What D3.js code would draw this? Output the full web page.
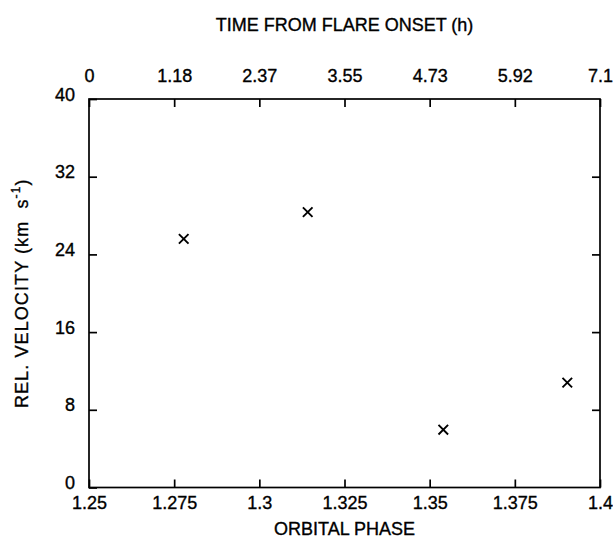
<!DOCTYPE html>
<html>
<head>
<meta charset="utf-8">
<script src="https://cdn.jsdelivr.net/npm/d3@7"></script>
<style>
  html, body { margin: 0; padding: 0; background: #fff; }
  svg { display: block; }
  text { font-family: "Liberation Sans", Arial, sans-serif; fill: #000; stroke: #000; stroke-width: 0.35px; }
</style>
</head>
<body>
<svg id="chart" width="613" height="538"></svg>
<script>
// ---- data ----
const phase = [1.2778, 1.3142, 1.3540, 1.3904];
const velocity = [25.6, 28.35, 5.95, 10.8];
const phaseTicks = [1.25, 1.275, 1.3, 1.325, 1.35, 1.375, 1.4];
const phaseTickLabels = ["1.25", "1.275", "1.3", "1.325", "1.35", "1.375", "1.4"];
const timeTickLabels = ["0", "1.18", "2.37", "3.55", "4.73", "5.92", "7.1"];
const velocityTicks = [0, 8, 16, 24, 32, 40];

const svg = d3.select("#chart");
const mL = 89, mR = 600, mT = 99, mB = 487.5;
const x = d3.scaleLinear().domain([1.25, 1.4]).range([mL, mR]);
const y = d3.scaleLinear().domain([0, 40]).range([mB, mT]);
const tickLen = 8;
const fs = 18;
const FF = "'Liberation Sans', Arial, sans-serif";

// frame
svg.append("rect")
  .attr("x", mL).attr("y", mT)
  .attr("width", mR - mL).attr("height", mB - mT)
  .attr("fill", "none").attr("stroke", "#000").attr("stroke-width", 1.7);

// bottom axis
const xb = d3.axisBottom(x).tickValues(phaseTicks)
  .tickFormat((d, i) => phaseTickLabels[i]).tickSizeInner(-tickLen).tickSizeOuter(0).tickPadding(0);
const gb = svg.append("g").attr("transform", `translate(0,${mB})`).call(xb);
gb.select(".domain").remove();
gb.selectAll("line").attr("stroke", "#000").attr("stroke-width", 1.7);
gb.selectAll("text").attr("font-size", fs).attr("dy", null).attr("y", 21)
  .attr("fill", "#000").style("font-family", FF);

// top axis (time labels at same positions)
const xt = d3.axisTop(x).tickValues(phaseTicks)
  .tickFormat((d, i) => timeTickLabels[i]).tickSizeInner(-tickLen).tickSizeOuter(0).tickPadding(0);
const gt = svg.append("g").attr("transform", `translate(0,${mT})`).call(xt);
gt.select(".domain").remove();
gt.selectAll("line").attr("stroke", "#000").attr("stroke-width", 1.7);
gt.selectAll("text").attr("font-size", fs).attr("dy", null).attr("y", -17)
  .attr("fill", "#000").style("font-family", FF);

// left axis
const yl = d3.axisLeft(y).tickValues(velocityTicks).tickFormat(d3.format("d"))
  .tickSizeInner(-tickLen).tickSizeOuter(0).tickPadding(0);
const gl = svg.append("g").attr("transform", `translate(${mL},0)`).call(yl);
gl.select(".domain").remove();
gl.selectAll("line").attr("stroke", "#000").attr("stroke-width", 1.7);
gl.selectAll("text").attr("font-size", fs).attr("dy", "1").attr("x", -14)
  .attr("fill", "#000").style("font-family", FF);

// right axis ticks
const yr = d3.axisRight(y).tickValues(velocityTicks.filter(v => v > 0 && v < 40))
  .tickFormat("").tickSizeInner(-tickLen).tickSizeOuter(0);
const gr = svg.append("g").attr("transform", `translate(${mR},0)`).call(yr);
gr.select(".domain").remove();
gr.selectAll("line").attr("stroke", "#000").attr("stroke-width", 1.7);

// axis titles
svg.append("text").attr("x", (mL + mR) / 2).attr("y", 31)
  .attr("text-anchor", "middle").attr("font-size", fs)
  .text("TIME FROM FLARE ONSET (h)");
svg.append("text").attr("x", (mL + mR) / 2).attr("y", 535)
  .attr("text-anchor", "middle").attr("font-size", fs)
  .text("ORBITAL PHASE");
const yt = svg.append("text")
  .attr("transform", `translate(28,${(mT + mB) / 2}) rotate(-90)`)
  .attr("text-anchor", "middle").attr("font-size", fs)
  .attr("letter-spacing", 1.1);
yt.append("tspan").text("REL. VELOCITY (km\u00A0\u00A0s");
yt.append("tspan").attr("font-size", 12).attr("dy", -8).text("-1");
yt.append("tspan").attr("dy", 8).text(")");

// markers
const h = 4.8;
const g = svg.append("g");
phase.forEach((p, i) => {
  const cx = x(p), cy = y(velocity[i]);
  g.append("path")
    .attr("d", `M${cx - h},${cy - h}L${cx + h},${cy + h}M${cx - h},${cy + h}L${cx + h},${cy - h}`)
    .attr("stroke", "#000").attr("stroke-width", 1.9).attr("fill", "none");
});
</script>
</body>
</html>
